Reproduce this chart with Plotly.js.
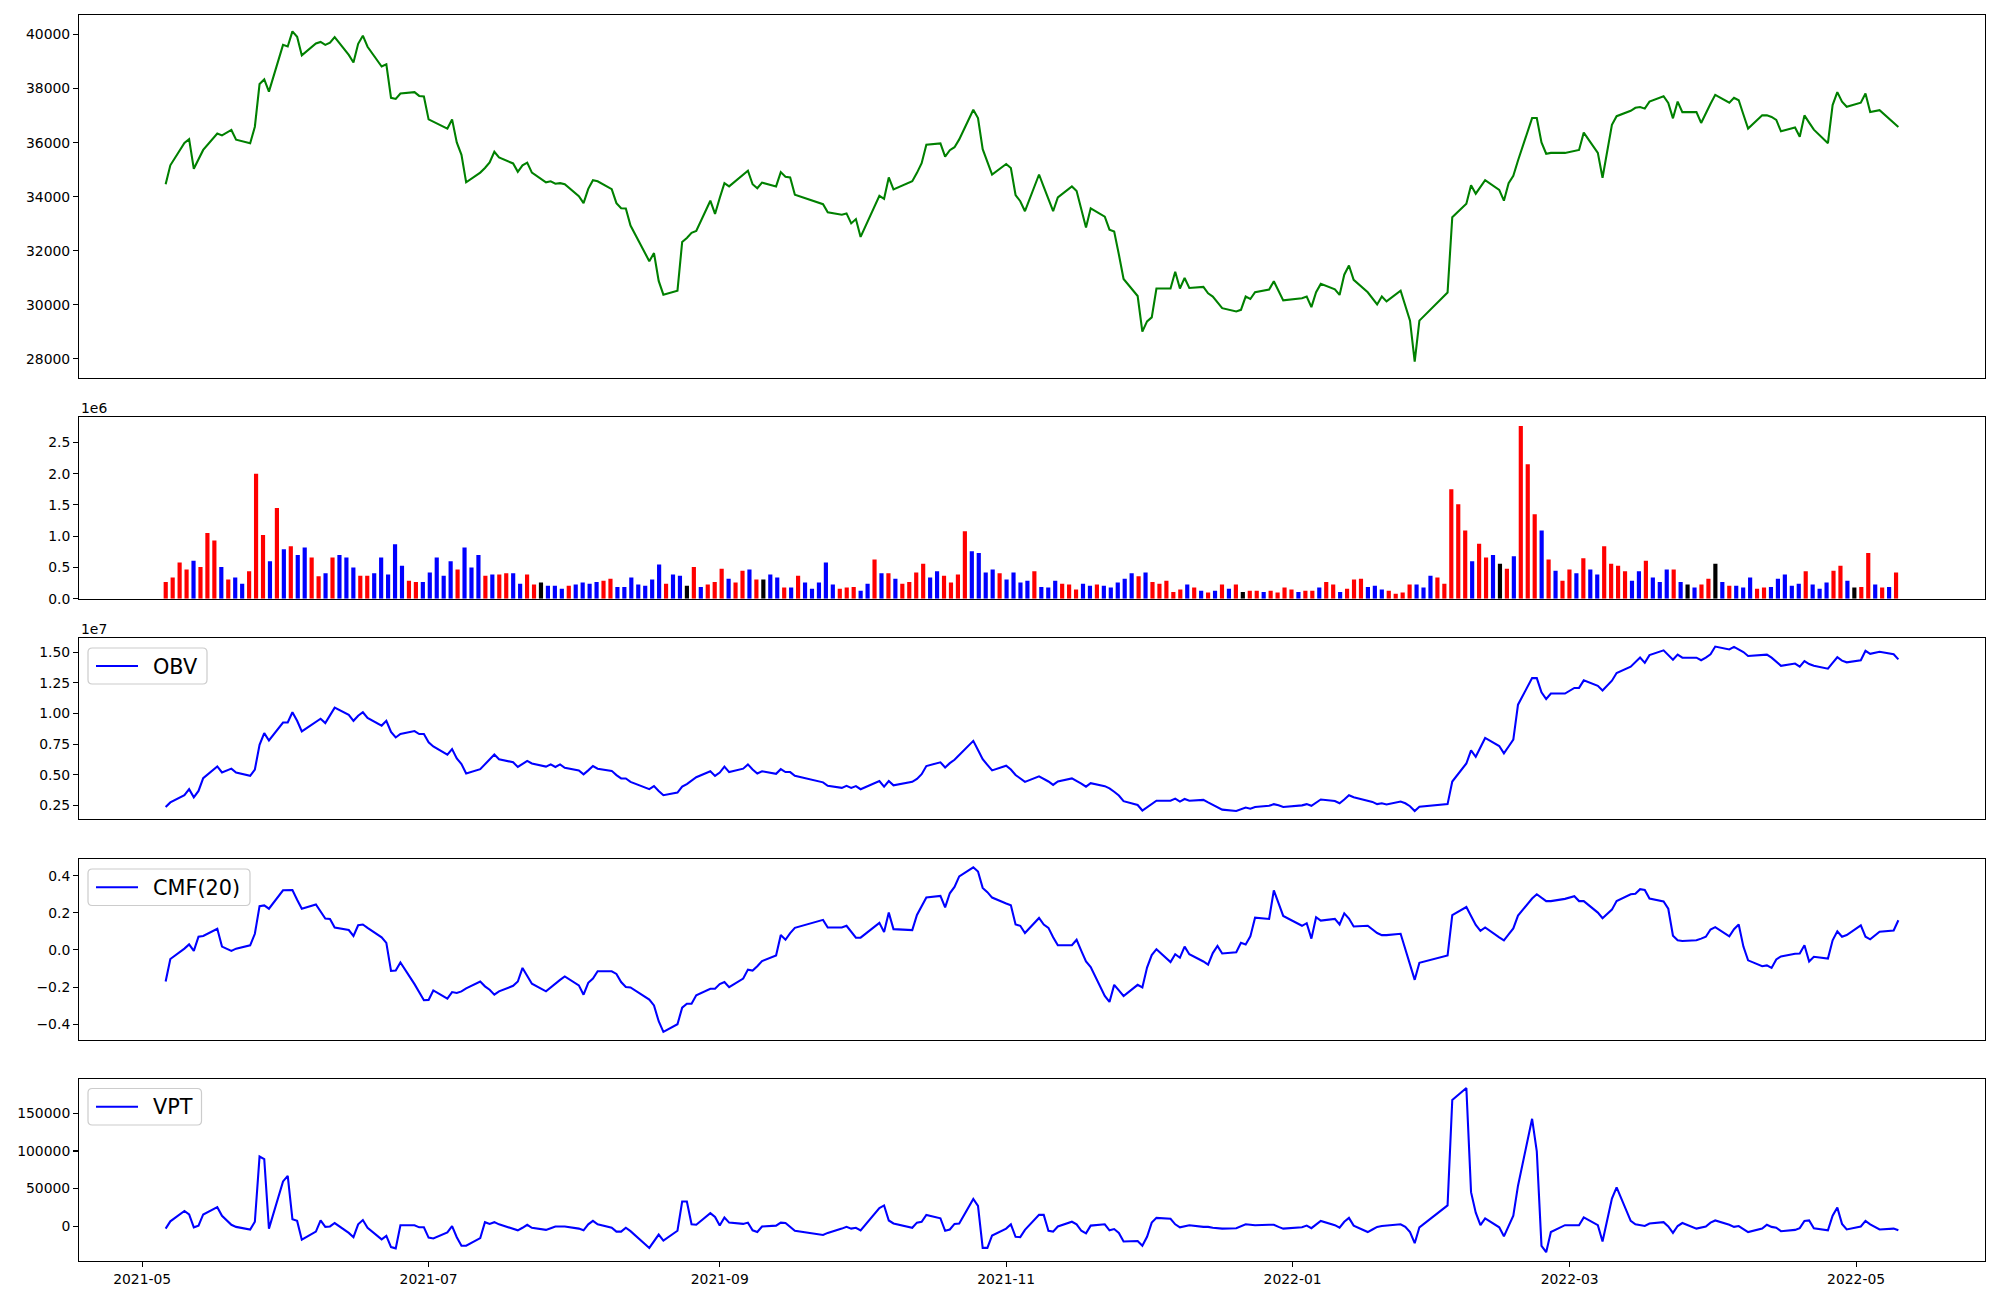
<!DOCTYPE html>
<html><head><meta charset="utf-8">
<script src="https://cdn.plot.ly/plotly-3.0.1.min.js"></script>
<style>html,body{margin:0;padding:0;background:#fff}#chart{width:2000px;height:1300px}</style>
</head><body><div id="chart"></div>
<script>
// ---- DATA ----
const dates = [
'2021-05-06','2021-05-07','2021-05-10','2021-05-11','2021-05-12','2021-05-13','2021-05-14','2021-05-17','2021-05-18','2021-05-20','2021-05-21','2021-05-24','2021-05-25','2021-05-26','2021-05-27','2021-05-28','2021-05-31',
'2021-06-01','2021-06-02','2021-06-03','2021-06-04','2021-06-07','2021-06-08','2021-06-09','2021-06-10','2021-06-11','2021-06-14','2021-06-15','2021-06-16','2021-06-17','2021-06-18','2021-06-21','2021-06-22','2021-06-23','2021-06-24','2021-06-25','2021-06-28','2021-06-29','2021-06-30',
'2021-07-01','2021-07-02','2021-07-05','2021-07-06','2021-07-07','2021-07-08','2021-07-09','2021-07-12','2021-07-13','2021-07-14','2021-07-15','2021-07-16','2021-07-19','2021-07-20','2021-07-21','2021-07-22','2021-07-23','2021-07-26','2021-07-27','2021-07-28','2021-07-29','2021-07-30',
'2021-08-02','2021-08-03','2021-08-04','2021-08-05','2021-08-06','2021-08-09','2021-08-10','2021-08-11','2021-08-12','2021-08-13','2021-08-17','2021-08-18','2021-08-19','2021-08-20','2021-08-23','2021-08-24','2021-08-25','2021-08-26','2021-08-27','2021-08-30','2021-08-31',
'2021-09-01','2021-09-02','2021-09-03','2021-09-06','2021-09-07','2021-09-08','2021-09-09','2021-09-10','2021-09-13','2021-09-14','2021-09-15','2021-09-16','2021-09-17','2021-09-23','2021-09-24','2021-09-27','2021-09-28','2021-09-29','2021-09-30',
'2021-10-01','2021-10-05','2021-10-06','2021-10-07','2021-10-08','2021-10-12','2021-10-13','2021-10-14','2021-10-15','2021-10-18','2021-10-19','2021-10-20','2021-10-21','2021-10-22','2021-10-25','2021-10-26','2021-10-27','2021-10-28','2021-10-29',
'2021-11-01','2021-11-02','2021-11-03','2021-11-04','2021-11-05','2021-11-08','2021-11-09','2021-11-10','2021-11-11','2021-11-12','2021-11-15','2021-11-16','2021-11-17','2021-11-18','2021-11-19','2021-11-22','2021-11-23','2021-11-24','2021-11-25','2021-11-26','2021-11-29','2021-11-30',
'2021-12-01','2021-12-02','2021-12-03','2021-12-06','2021-12-07','2021-12-08','2021-12-09','2021-12-10','2021-12-13','2021-12-14','2021-12-15','2021-12-16','2021-12-17','2021-12-20','2021-12-21','2021-12-22','2021-12-23','2021-12-24','2021-12-27','2021-12-28','2021-12-29','2021-12-30',
'2022-01-03','2022-01-04','2022-01-05','2022-01-06','2022-01-07','2022-01-10','2022-01-11','2022-01-12','2022-01-13','2022-01-14','2022-01-17','2022-01-18','2022-01-19','2022-01-20','2022-01-21','2022-01-24','2022-01-25','2022-01-26','2022-01-27','2022-01-28',
'2022-02-03','2022-02-04','2022-02-07','2022-02-08','2022-02-09','2022-02-10','2022-02-11','2022-02-14','2022-02-15','2022-02-16','2022-02-17','2022-02-18','2022-02-21','2022-02-22','2022-02-23','2022-02-24','2022-02-25','2022-02-28',
'2022-03-02','2022-03-03','2022-03-04','2022-03-07','2022-03-08','2022-03-10','2022-03-11','2022-03-14','2022-03-15','2022-03-16','2022-03-17','2022-03-18','2022-03-21','2022-03-22','2022-03-23','2022-03-24','2022-03-25','2022-03-28','2022-03-29','2022-03-30','2022-03-31',
'2022-04-01','2022-04-04','2022-04-05','2022-04-06','2022-04-07','2022-04-08','2022-04-11','2022-04-12','2022-04-13','2022-04-14','2022-04-15','2022-04-18','2022-04-19','2022-04-20','2022-04-21','2022-04-22','2022-04-25','2022-04-26','2022-04-27','2022-04-28','2022-04-29',
'2022-05-02','2022-05-03','2022-05-04','2022-05-06','2022-05-09','2022-05-10'
];

const closePrice = [
34460,35160,35990,36130,35030,35380,35730,36340,36270,36470,36110,35980,36590,38170,38340,37890,39620,
39560,40120,39920,39230,39670,39730,39620,39700,39910,39250,38970,39660,39960,39550,38820,38900,37660,37620,37820,37870,37730,37710,
36860,36770,36520,36860,36010,35550,34530,34890,35060,35270,35660,35450,35230,34920,35160,35260,34890,34530,34570,34480,34500,34460,
34020,33760,34290,34610,34570,34280,33760,33570,33560,32930,31610,31910,30880,30370,30520,32320,32470,32660,32730,33850,33360,
33950,34500,34380,34820,34960,34460,34310,34520,34380,34910,34740,34710,34070,33720,33420,33330,33380,33010,33170,
32510,34030,33920,34710,34270,34570,34880,35240,35920,35970,35480,35720,35830,36120,37220,36910,35760,35300,34820,
35210,35060,34060,33830,33460,34820,34360,33900,33460,33970,34380,34210,33530,32860,33570,33260,32780,32710,31860,30950,30320,29000,
29380,29530,30600,30600,31220,30600,30990,30620,30660,30420,30300,30070,29870,29750,29810,30300,30210,30460,30560,30870,30520,30160,
30240,30300,29910,30460,30770,30570,30360,31110,31450,30920,30460,30220,30010,30300,30120,30520,29980,29410,27890,29410,
30450,33240,33740,34420,34110,34360,34610,34250,33850,34500,34770,35340,36910,36910,36010,35590,35620,35620,
35710,35730,36370,35620,34700,36660,36980,37180,37290,37320,37260,37520,37720,37470,36900,37520,37130,37130,36730,37110,37440,
37770,37480,37660,37570,37040,36520,37010,37010,36950,36840,36420,36560,36220,37010,36740,36480,35980,37390,37870,37520,37330,
37480,37820,37130,37200,36730,36580
];

// daily volume, in units of 1e6
const volumeMillions = [
0.27,0.34,0.58,0.47,0.61,0.51,1.05,0.93,0.51,0.31,
0.34,0.24,0.44,2.00,1.02,0.60,1.45,0.79,0.84,0.70,
0.82,0.66,0.36,0.41,0.66,0.70,0.66,0.50,0.37,0.37,
0.41,0.66,0.39,0.87,0.53,0.29,0.27,0.27,0.42,0.66,
0.37,0.60,0.47,0.82,0.50,0.70,0.37,0.39,0.39,0.41,
0.41,0.24,0.39,0.23,0.26,0.21,0.21,0.16,0.21,0.23,
0.26,0.24,0.27,0.29,0.32,0.19,0.19,0.34,0.23,0.21,
0.31,0.55,0.24,0.39,0.37,0.21,0.51,0.19,0.23,0.27,
0.48,0.32,0.26,0.45,0.47,0.31,0.31,0.39,0.34,0.18,
0.18,0.37,0.26,0.16,0.26,0.58,0.23,0.16,0.18,0.19,
0.13,0.24,0.63,0.41,0.41,0.32,0.24,0.27,0.42,0.56,
0.34,0.44,0.37,0.26,0.39,1.08,0.76,0.73,0.42,0.47,
0.41,0.31,0.42,0.26,0.29,0.44,0.19,0.18,0.29,0.24,
0.23,0.15,0.24,0.21,0.23,0.21,0.18,0.26,0.32,0.41,
0.36,0.42,0.27,0.24,0.29,0.11,0.15,0.23,0.18,0.13,
0.10,0.13,0.23,0.16,0.23,0.11,0.13,0.13,0.11,0.13,
0.10,0.18,0.15,0.11,0.13,0.13,0.18,0.27,0.23,0.11,
0.16,0.31,0.32,0.19,0.21,0.15,0.13,0.08,0.10,0.23,
0.23,0.18,0.37,0.34,0.24,1.75,1.51,1.09,0.60,0.88,
0.66,0.70,0.56,0.48,0.68,2.76,2.15,1.35,1.09,0.63,
0.45,0.29,0.47,0.41,0.65,0.47,0.39,0.84,0.56,0.53,
0.44,0.29,0.44,0.61,0.34,0.27,0.47,0.47,0.27,0.23,
0.18,0.23,0.32,0.56,0.27,0.21,0.21,0.18,0.34,0.16,
0.18,0.19,0.32,0.39,0.21,0.24,0.44,0.23,0.16,0.26,
0.45,0.53,0.29,0.18,0.19,0.73,0.23,0.18,0.19,0.42
];

// candle direction of each day: R = up, B = down, K = unchanged
const candleDir = (
'RRRRBRRRBR' + 'BBRRRBRBRB' + 'BRRBRBBBRR' + 'BBBBBRRBBB' + 'BBRBBBRBRR' +
'BBRRKBBBRB' + 'BBBRRBBBBB' + 'BBRBBKRBRR' + 'RBRRBRKBBR' + 'BRBBBBBRRR' +
'BBRBRBRRRR' + 'BBRRRRBBBB' + 'RBBBBRBBBR' + 'RRBBRBBBBB' + 'RBRRRRRBRB' +
'RBRBRKRRBR' + 'RRRBRRBRRB' + 'RRRBBBRRRR' + 'BBBRRRRRBR' + 'RBKRBRRRBR' +
'BRRBRBBRRR' + 'RBBRBBBRBK' + 'BRRKBRBBBR' + 'RBBBBBRBBB' + 'RRBKRRBRBR'
).split('');

// On-Balance Volume, in units of 1e7
const obv1e7 = [
0.235,0.273,0.333,0.381,0.315,0.367,0.472,0.567,0.518,0.549,
0.518,0.490,0.542,0.744,0.839,0.779,0.926,0.926,1.010,0.940,
0.853,0.926,0.957,0.922,0.989,1.048,0.989,0.940,0.982,1.010,
0.964,0.901,0.940,0.849,0.804,0.832,0.856,0.832,0.832,0.765,
0.730,0.664,0.709,0.633,0.587,0.510,0.545,0.587,0.626,0.664,
0.626,0.601,0.563,0.587,0.612,0.591,0.566,0.584,0.563,0.584,
0.556,0.535,0.503,0.535,0.570,0.549,0.531,0.496,0.469,0.469,
0.441,0.381,0.406,0.367,0.332,0.353,0.402,0.423,0.451,0.479,
0.528,0.490,0.517,0.566,0.521,0.549,0.584,0.542,0.510,0.528,
0.507,0.545,0.521,0.521,0.490,0.437,0.409,0.392,0.409,0.392,
0.406,0.381,0.448,0.402,0.448,0.413,0.441,0.465,0.504,0.570,
0.601,0.559,0.594,0.622,0.661,0.776,0.702,0.626,0.580,0.535,
0.573,0.542,0.497,0.469,0.441,0.486,0.465,0.444,0.416,0.444,
0.469,0.451,0.427,0.402,0.430,0.406,0.388,0.360,0.329,0.283,
0.252,0.207,0.235,0.263,0.287,0.287,0.304,0.280,0.301,0.287,
0.294,0.273,0.252,0.231,0.214,0.203,0.217,0.231,0.221,0.235,
0.245,0.259,0.249,0.235,0.249,0.259,0.245,0.270,0.297,0.284,
0.266,0.297,0.332,0.315,0.290,0.277,0.259,0.266,0.256,0.280,
0.266,0.242,0.203,0.238,0.259,0.444,0.591,0.699,0.646,0.723,
0.800,0.734,0.674,0.730,0.786,1.072,1.289,1.289,1.173,1.118,
1.163,1.163,1.209,1.209,1.271,1.226,1.188,1.268,1.331,1.383,
1.422,1.457,1.414,1.477,1.516,1.481,1.439,1.481,1.456,1.456,
1.435,1.456,1.484,1.547,1.523,1.544,1.523,1.502,1.470,1.481,
1.481,1.456,1.421,1.390,1.408,1.383,1.428,1.404,1.390,1.366,
1.414,1.460,1.432,1.418,1.435,1.512,1.488,1.505,1.484,1.442
];

// Chaikin Money Flow (20)
const cmf20 = [
-0.170,-0.049,0.007,0.030,-0.005,0.071,0.075,0.114,0.018,-0.005,
0.007,0.025,0.087,0.236,0.240,0.222,0.321,0.321,0.323,0.270,
0.222,0.245,0.208,0.169,0.167,0.121,0.107,0.075,0.133,0.137,
0.119,0.068,0.038,-0.113,-0.111,-0.067,-0.184,-0.225,-0.271,-0.269,
-0.218,-0.262,-0.227,-0.232,-0.223,-0.207,-0.170,-0.196,-0.214,-0.241,
-0.223,-0.193,-0.170,-0.097,-0.138,-0.182,-0.223,-0.202,-0.179,-0.161,
-0.143,-0.191,-0.241,-0.177,-0.154,-0.115,-0.115,-0.129,-0.173,-0.200,
-0.202,-0.267,-0.299,-0.384,-0.441,-0.400,-0.311,-0.290,-0.290,-0.244,
-0.209,-0.209,-0.184,-0.173,-0.200,-0.154,-0.106,-0.111,-0.088,-0.060,
-0.030,0.080,0.055,0.091,0.119,0.162,0.121,0.121,0.130,0.098,
0.066,0.066,0.146,0.096,0.201,0.112,0.107,0.188,0.236,0.282,
0.291,0.229,0.305,0.339,0.396,0.445,0.422,0.334,0.311,0.282,
0.250,0.240,0.137,0.130,0.091,0.172,0.137,0.119,0.068,0.025,
0.025,0.055,-0.005,-0.062,-0.092,-0.248,-0.280,-0.188,-0.218,-0.248,
-0.188,-0.202,-0.095,-0.028,0.004,-0.065,-0.023,-0.042,0.018,-0.023,
-0.062,-0.079,-0.017,0.022,-0.019,-0.012,0.038,0.029,0.073,0.174,
0.167,0.321,0.252,0.183,0.130,0.144,0.061,0.176,0.158,0.167,
0.137,0.197,0.169,0.126,0.130,0.110,0.091,0.080,0.080,0.087,
0.006,-0.074,-0.161,-0.069,-0.030,0.188,0.231,0.183,0.135,0.103,
0.121,0.068,0.052,0.084,0.116,0.185,0.277,0.300,0.282,0.263,
0.263,0.275,0.289,0.263,0.263,0.201,0.171,0.217,0.263,0.300,
0.302,0.327,0.323,0.277,0.261,0.222,0.077,0.052,0.048,0.052,
0.061,0.071,0.110,0.123,0.073,0.112,0.137,0.018,-0.056,-0.088,
-0.083,-0.097,-0.051,-0.035,-0.021,-0.019,0.025,-0.062,-0.037,-0.046,
0.052,0.100,0.071,0.080,0.132,0.071,0.057,0.098,0.105,0.160
];

// Volume Price Trend
const vpt = [
-3250,6450,20150,15580,-1540,740,15580,25290,13870,1880,
-970,-4400,5880,92640,89220,-3250,59530,66950,9300,7020,
-18100,-7250,7590,-970,-400,4170,-8960,-14670,2450,8160,
-2110,-17520,-12950,-27800,-29510,1310,1310,-1540,-1540,-15240,
-16380,-8390,170,-14670,-26090,-26090,-15810,5310,3020,5310,
2450,-3250,-5540,-2110,1880,-2110,-4970,-2680,-400,-400,
-400,-3250,-5540,2450,7020,2450,-2110,-7250,-7250,-2110,
-6680,-28940,-19810,-11240,-19240,-6110,32710,32710,2450,1880,
17300,12160,740,11590,4740,3020,4740,-5540,-7820,-400,
740,4740,4170,-970,-6110,-11820,-8960,-3250,-970,-3250,
-2110,-5540,24150,27570,7590,3590,-2110,4740,5880,15010,
10450,-6110,-4400,3020,3590,36130,27000,-28940,-28940,-12380,
-3250,2450,-14100,-14670,-4970,15010,15010,-6110,-7250,-400,
5880,2450,-6110,-9530,740,2450,-5540,-3820,-8960,-20380,
-19810,-26090,-14100,4740,11020,9870,2450,-1540,-400,1310,
-970,-970,-2110,-2680,-3250,-2680,-400,2450,1880,1310,
1880,1880,-970,-3250,-1540,740,-2680,2450,7020,1310,
-2110,5880,11020,740,-7820,-4400,-970,170,740,2450,
-970,-7820,-22660,-1540,27570,167990,183970,45270,17870,1310,
10450,-1540,-13530,170,13870,53830,142870,99490,-26090,-34650,
-7820,1310,1310,1310,11590,1310,-20380,36700,51540,7020,
2450,1310,170,3590,5310,-400,-8960,170,4170,-3250,
-2110,-400,4740,7590,1880,-970,170,-3820,-7820,-3250,
1880,-970,-2110,-6680,-4970,-2680,7020,7590,-2680,-5540,
13870,24710,3020,-4400,-400,7020,2450,-4400,-3250,-5540
];

const seriesNames = ['OBV', 'CMF(20)', 'VPT'];

// ---- STYLE / LAYOUT ----
const FONT = 'DejaVu Sans, Liberation Sans, sans-serif';
const tickFont = {family: FONT, size: 13.9, color: '#000'};
const dirColor = {R: '#ff0000', B: '#0000ff', K: '#000000'};
const dateRange = ['2021-04-17 13:12', '2022-05-28 10:48'];
const barIndex = volumeMillions.map((_, i) => i);
const W = 2000, H = 1300, ML = 79, MR = 15;
const PW = W - ML - MR;
const px2x = px => (px - ML) / PW;
const px2y = py => 1 - py / H;

function xFrame(extra) {
  return Object.assign({showline: true, linecolor: '#000', linewidth: 1.1, mirror: true,
    showgrid: false, zeroline: false, ticks: '', showticklabels: false, fixedrange: true}, extra);
}
function yFrame(extra) {
  return Object.assign({showline: true, linecolor: '#000', linewidth: 1.1, mirror: true,
    showgrid: false, zeroline: false, ticks: 'outside', ticklen: 4.9, tickwidth: 1.1,
    tickcolor: '#000', tickfont: tickFont, fixedrange: true}, extra);
}

// matplotlib-style legend boxes (pixel boxes measured on the reference)
const legendBoxes = [
  {x0: 88, y0: 648, x1: 207, y1: 684},
  {x0: 88, y0: 869, x1: 250, y1: 905.5},
  {x0: 88, y0: 1088.5, x1: 201.5, y1: 1125}
];
function roundRectPath(b, r) {
  const X = px2x, Y = px2y;
  return `M ${X(b.x0 + r)},${Y(b.y0)} L ${X(b.x1 - r)},${Y(b.y0)} Q ${X(b.x1)},${Y(b.y0)} ${X(b.x1)},${Y(b.y0 + r)} ` +
         `L ${X(b.x1)},${Y(b.y1 - r)} Q ${X(b.x1)},${Y(b.y1)} ${X(b.x1 - r)},${Y(b.y1)} ` +
         `L ${X(b.x0 + r)},${Y(b.y1)} Q ${X(b.x0)},${Y(b.y1)} ${X(b.x0)},${Y(b.y1 - r)} ` +
         `L ${X(b.x0)},${Y(b.y0 + r)} Q ${X(b.x0)},${Y(b.y0)} ${X(b.x0 + r)},${Y(b.y0)} Z`;
}
const legendShapes = [], legendTexts = [];
legendBoxes.forEach((b, k) => {
  const cy = (b.y0 + b.y1) / 2;
  legendShapes.push({type: 'path', xref: 'paper', yref: 'paper', path: roundRectPath(b, 4.2),
    fillcolor: 'rgba(255,255,255,0.8)', line: {color: '#cccccc', width: 1.2}, layer: 'above'});
  legendShapes.push({type: 'line', xref: 'paper', yref: 'paper',
    x0: px2x(b.x0 + 8), x1: px2x(b.x0 + 50), y0: px2y(cy), y1: px2y(cy),
    line: {color: '#0000ff', width: 2.08}, layer: 'above'});
  legendTexts.push({xref: 'paper', yref: 'paper', x: px2x(b.x0 + 64), y: px2y(cy + 0.5),
    xanchor: 'left', yanchor: 'middle', text: seriesNames[k], showarrow: false,
    font: {family: FONT, size: 20.8, color: '#000'}, borderpad: 0});
});

const traces = [
  {type: 'scatter', mode: 'lines', x: dates, y: closePrice, xaxis: 'x', yaxis: 'y',
   line: {color: '#008000', width: 2.08}, showlegend: false, name: 'Close'},
  {type: 'bar', x: barIndex, y: volumeMillions, xaxis: 'x2', yaxis: 'y2', width: 0.6,
   marker: {color: candleDir.map(d => dirColor[d]), line: {width: 0}}, showlegend: false, name: 'Volume'},
  {type: 'scatter', mode: 'lines', x: dates, y: obv1e7, xaxis: 'x3', yaxis: 'y3',
   line: {color: '#0000ff', width: 2.08}, name: seriesNames[0], showlegend: false},
  {type: 'scatter', mode: 'lines', x: dates, y: cmf20, xaxis: 'x4', yaxis: 'y4',
   line: {color: '#0000ff', width: 2.08}, name: seriesNames[1], showlegend: false},
  {type: 'scatter', mode: 'lines', x: dates, y: vpt, xaxis: 'x5', yaxis: 'y5',
   line: {color: '#0000ff', width: 2.08}, name: seriesNames[2], showlegend: false}
];

const layout = {
  width: W, height: H,
  margin: {l: ML, r: MR, t: 0, b: 0},
  paper_bgcolor: '#fff', plot_bgcolor: '#fff',
  font: {family: FONT, color: '#000'},
  showlegend: false,
  xaxis:  xFrame({type: 'date', range: dateRange, anchor: 'y', domain: [0, 1]}),
  xaxis2: xFrame({type: 'linear', range: [-12.48, 261.8], anchor: 'y2', domain: [0, 1]}),
  xaxis3: xFrame({type: 'date', range: dateRange, anchor: 'y3', domain: [0, 1]}),
  xaxis4: xFrame({type: 'date', range: dateRange, anchor: 'y4', domain: [0, 1]}),
  xaxis5: xFrame({type: 'date', range: dateRange, anchor: 'y5', domain: [0, 1],
    showticklabels: true, ticks: 'outside', ticklen: 4.9, tickwidth: 1.1, tickcolor: '#000',
    tickfont: tickFont, tickformat: '%Y-%m', dtick: 'M2', tick0: '2021-05-01'}),
  yaxis:  yFrame({domain: [0.70923, 0.98823], range: [27285, 40715], dtick: 2000, tick0: 28000, tickformat: 'd', anchor: 'x'}),
  yaxis2: yFrame({domain: [0.53938, 0.67923], range: [0, 2.905], dtick: 0.5, tick0: 0, tickformat: '.1f', anchor: 'x2'}),
  yaxis3: yFrame({domain: [0.36977, 0.50885], range: [0.135, 1.613], dtick: 0.25, tick0: 0, tickformat: '.2f', anchor: 'x3'}),
  yaxis4: yFrame({domain: [0.19985, 0.33885], range: [-0.486, 0.487], dtick: 0.2, tick0: 0, tickformat: '.1f', anchor: 'x4'}),
  yaxis5: yFrame({domain: [0.02992, 0.16962], range: [-46500, 195200], dtick: 50000, tick0: 0, tickformat: 'd', anchor: 'x5'}),
  shapes: legendShapes,
  annotations: [
    {xref: 'paper', yref: 'paper', x: 0, y: 0.6862, xanchor: 'left', yanchor: 'middle',
     text: '1e6', showarrow: false, font: tickFont},
    {xref: 'paper', yref: 'paper', x: 0, y: 0.5162, xanchor: 'left', yanchor: 'middle',
     text: '1e7', showarrow: false, font: tickFont}
  ].concat(legendTexts)
};

Plotly.newPlot('chart', traces, layout, {displayModeBar: false, staticPlot: true});
</script>
</body></html>
